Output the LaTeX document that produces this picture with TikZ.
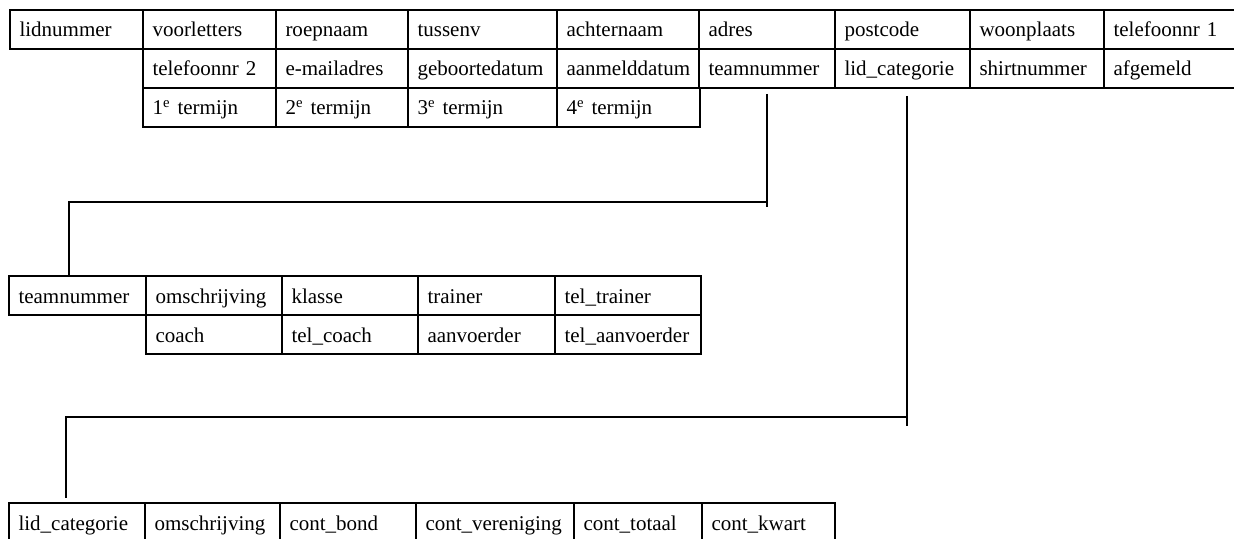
\documentclass[tikz,border=0pt]{standalone}
\usepackage{fontspec}
\setmainfont{Liberation Serif}
\begin{document}
\begin{tikzpicture}[
	x=0.5pt,y=-0.5pt,
	font=\fontsize{10.5}{12}\selectfont,
	cell/.style={draw,line width=1pt,anchor=north west,align=left,inner xsep=4.75pt,inner ysep=0pt,minimum height=19.5pt,text height=8.5pt,text depth=1pt},
	link/.style={draw,line width=0.9pt}
	]
	\useasboundingbox (0,0) rectangle (1234,539);
	% leden
	\foreach \nm/\xa/\xb/\lab in {a1/9/142/lidnummer,a2/142/275/voorletters,a3/275/407/roepnaam,a4/407/556/tussenv,a5/556/698/achternaam,a6/698/834/adres,a7/834/969/postcode,a8/969/1103/woonplaats,a9/1103/1238/telefoonnr 1}{
		\pgfmathsetmacro\tw{(\xb-\xa)*0.5-9.5}
		\node[cell,text width=\tw pt] (\nm) at (\xa,9) {\lab};
	}
	\foreach \nm/\xa/\xb/\lab in {b1/142/275/telefoonnr 2,b2/275/407/e-mailadres,b3/407/556/geboortedatum,b4/556/698/aanmelddatum,tnrA/698/834/teamnummer,lcatA/834/969/lid\_categorie,b7/969/1103/shirtnummer,b8/1103/1238/afgemeld}{
		\pgfmathsetmacro\tw{(\xb-\xa)*0.5-9.5}
		\node[cell,text width=\tw pt] (\nm) at (\xa,48) {\lab};
	}
	\foreach \nm/\xa/\xb/\lab in {c1/142/275/1\textsuperscript{e} termijn,c2/275/407/2\textsuperscript{e} termijn,c3/407/556/3\textsuperscript{e} termijn,c4/556/699/4\textsuperscript{e} termijn}{
		\pgfmathsetmacro\tw{(\xb-\xa)*0.5-9.5}
		\node[cell,text width=\tw pt] (\nm) at (\xa,87) {\lab};
	}
	% teams
	\foreach \nm/\xa/\xb/\lab in {tnrB/8/145/teamnummer,d2/145/281/omschrijving,d3/281/417/klasse,d4/417/554/trainer,d5/554/700/tel\_trainer}{
		\pgfmathsetmacro\tw{(\xb-\xa)*0.5-9.5}
		\node[cell,text width=\tw pt] (\nm) at (\xa,275) {\lab};
	}
	\foreach \nm/\xa/\xb/\lab in {e1/145/281/coach,e2/281/417/tel\_coach,e3/417/554/aanvoerder,e4/554/700/tel\_aanvoerder}{
		\pgfmathsetmacro\tw{(\xb-\xa)*0.5-9.5}
		\node[cell,text width=\tw pt] (\nm) at (\xa,314) {\lab};
	}
	% categorieen
	\foreach \nm/\xa/\xb/\lab in {lcatB/8/144/lid\_categorie,f2/144/279/omschrijving,f3/279/415/cont\_bond,f4/415/573/cont\_vereniging,f5/573/701/cont\_totaal,f6/701/834/cont\_kwart}{
		\pgfmathsetmacro\tw{(\xb-\xa)*0.5-9.5}
		\node[cell,text width=\tw pt] (\nm) at (\xa,502) {\lab};
	}
	% verbindingen
	\coordinate (k1) at (69,202);
	\coordinate (k2) at (66,417);
	\draw[link] (tnrA.south) ++(0,5) -- ++(0,113);
	\draw[link] (tnrA.south |- k1) -- (k1) -- (k1 |- tnrB.north);
	\draw[link] ([xshift=2.25pt]lcatA.south) ++(0,7) -- ++(0,330);
	\draw[link] ([xshift=2.25pt]lcatA.south |- k2) -- (k2) -- ++(0,81);
\end{tikzpicture}
\end{document}
